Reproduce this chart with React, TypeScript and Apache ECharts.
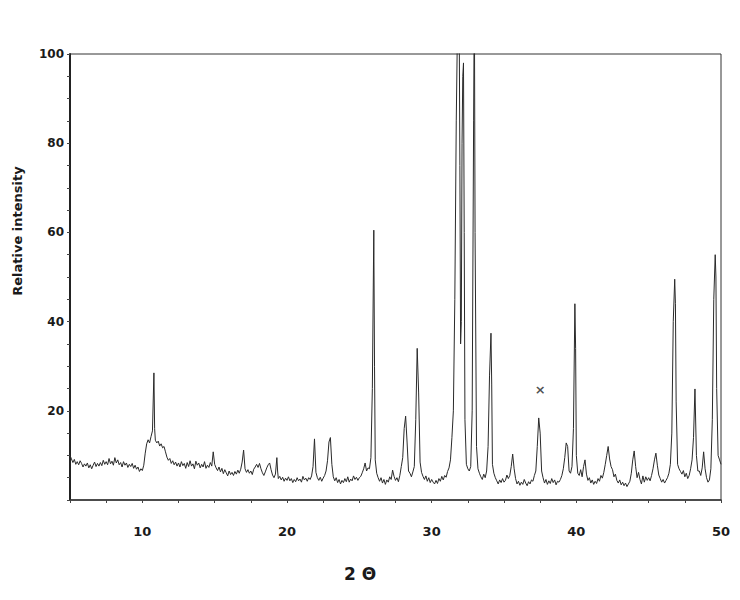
import React, { useEffect, useRef } from "react";
import * as echarts from "echarts";

const twoTheta: number[] = [
  5.0, 5.1, 5.2, 5.3, 5.4, 5.5, 5.6, 5.7, 5.8, 5.9, 6.0, 6.1, 6.2, 6.3, 6.4, 6.5, 6.6, 6.7, 6.8, 6.9,
  7.0, 7.1, 7.2, 7.3, 7.4, 7.5, 7.6, 7.7, 7.8, 7.9, 8.0, 8.1, 8.2, 8.3, 8.4, 8.5, 8.6, 8.7, 8.8, 8.9,
  9.0, 9.1, 9.2, 9.3, 9.4, 9.5, 9.6, 9.7, 9.8, 9.9, 10.0, 10.1,
  10.2, 10.3, 10.4, 10.5, 10.6, 10.7, 10.8, 10.85, 10.9, 11.0, 11.1, 11.2, 11.3, 11.4, 11.5, 11.6, 11.7, 11.8, 11.9,
  12.0, 12.1, 12.2, 12.3, 12.4, 12.5, 12.6, 12.7, 12.8, 12.9, 13.0, 13.1, 13.2, 13.3, 13.4, 13.5, 13.6, 13.7, 13.8, 13.9,
  14.0, 14.1, 14.2, 14.3, 14.4, 14.5, 14.6, 14.7, 14.8, 14.9, 15.0, 15.1, 15.2, 15.3, 15.4, 15.5, 15.6, 15.7, 15.8, 15.9,
  16.0, 16.1, 16.2, 16.3, 16.4, 16.5, 16.6, 16.7, 16.8, 16.9, 17.0, 17.1, 17.2, 17.3, 17.4, 17.5, 17.6, 17.7, 17.8, 17.9,
  18.0, 18.1, 18.2, 18.3, 18.4, 18.5, 18.6, 18.7, 18.8, 18.9, 19.0, 19.1, 19.2, 19.3, 19.35, 19.4, 19.5, 19.6, 19.7, 19.8, 19.9,
  20.0, 20.1, 20.2, 20.3, 20.4, 20.5, 20.6, 20.7, 20.8, 20.9, 21.0, 21.1, 21.2, 21.3, 21.4, 21.5, 21.6, 21.7, 21.8, 21.9,
  22.0, 22.1, 22.2, 22.3, 22.4, 22.5, 22.6, 22.7, 22.8, 22.9, 23.0, 23.1, 23.2, 23.3, 23.4, 23.5, 23.6, 23.7, 23.8, 23.9,
  24.0, 24.1, 24.2, 24.3, 24.4, 24.5, 24.6, 24.7, 24.8, 24.9, 25.0, 25.1, 25.2, 25.3, 25.4, 25.5, 25.6, 25.7, 25.8, 25.9,
  26.0, 26.05, 26.1, 26.2, 26.3, 26.4, 26.5, 26.6, 26.7, 26.8, 26.9, 27.0, 27.1, 27.2, 27.3, 27.4, 27.5, 27.6, 27.7, 27.8, 27.9,
  28.0, 28.1, 28.2, 28.3, 28.4, 28.5, 28.6, 28.7, 28.8, 28.9, 29.0, 29.1, 29.2, 29.3, 29.4, 29.5, 29.6, 29.7, 29.8, 29.9,
  30.0, 30.1, 30.2, 30.3, 30.4, 30.5, 30.6, 30.7, 30.8, 30.9, 31.0, 31.1, 31.2, 31.3, 31.4, 31.5, 31.6, 31.7, 31.8, 31.85,
  31.9, 31.95, 32.0, 32.05, 32.1, 32.15, 32.2, 32.25, 32.3, 32.4, 32.5, 32.6, 32.7, 32.8, 32.9, 32.95, 33.0, 33.1, 33.2, 33.3,
  33.4, 33.5, 33.6, 33.7, 33.8, 33.9, 34.0, 34.1, 34.15, 34.2, 34.3, 34.4, 34.5, 34.6, 34.7, 34.8, 34.9,
  35.0, 35.1, 35.2, 35.3, 35.4, 35.5, 35.6, 35.7, 35.8, 35.9, 36.0, 36.1, 36.2, 36.3, 36.4, 36.5, 36.6, 36.7, 36.8, 36.9,
  37.0, 37.1, 37.2, 37.3, 37.4, 37.5, 37.6, 37.7, 37.8, 37.9, 38.0, 38.1, 38.2, 38.3, 38.4, 38.5, 38.6, 38.7, 38.8, 38.9,
  39.0, 39.1, 39.2, 39.3, 39.4, 39.5, 39.6, 39.7, 39.8, 39.9, 39.95, 40.0, 40.1, 40.2, 40.3, 40.4, 40.5, 40.6, 40.7, 40.8, 40.9,
  41.0, 41.1, 41.2, 41.3, 41.4, 41.5, 41.6, 41.7, 41.8, 41.9, 42.0, 42.1, 42.2, 42.3, 42.4, 42.5, 42.6, 42.7, 42.8, 42.9,
  43.0, 43.1, 43.2, 43.3, 43.4, 43.5, 43.6, 43.7, 43.8, 43.9, 44.0, 44.1, 44.2, 44.3, 44.4, 44.5, 44.6, 44.7, 44.8, 44.9,
  45.0, 45.1, 45.2, 45.3, 45.4, 45.5, 45.6, 45.7, 45.8, 45.9, 46.0, 46.1, 46.2, 46.3, 46.4, 46.5, 46.6, 46.7, 46.8, 46.85, 46.9,
  47.0, 47.1, 47.2, 47.3, 47.4, 47.5, 47.6, 47.7, 47.8, 47.9, 48.0, 48.1, 48.2, 48.3, 48.4, 48.5, 48.6, 48.7, 48.8, 48.9,
  49.0, 49.1, 49.2, 49.3, 49.4, 49.5, 49.6, 49.65, 49.7, 49.8, 49.9, 50.0,
];

const intensity: number[] = [
  10.0, 9.2, 8.4, 9.1, 8.0, 8.6, 7.9, 8.8, 8.2, 7.4, 8.1, 7.6, 8.3, 7.2, 7.9, 7.0, 7.8, 8.5, 7.5, 8.2,
  7.6, 8.4, 7.7, 8.9, 8.0, 8.6, 7.9, 9.3, 8.1, 8.7, 7.8, 9.5, 8.3, 9.0, 7.9, 8.4, 7.4, 8.6, 7.8, 8.3,
  7.3, 8.0, 7.5, 8.2, 7.1, 7.8, 6.9, 7.4, 6.4, 7.0, 6.6, 7.8,
  10.5, 12.6, 13.5, 12.8, 14.2, 15.5, 28.5, 16.0, 13.4, 12.8, 13.2, 12.1, 12.6, 11.7, 12.0, 10.8, 9.6, 8.9, 9.3,
  8.2, 8.8, 7.9, 8.5, 7.6, 8.3, 7.4, 8.6, 7.7, 8.2, 7.1, 8.4, 7.5, 8.8, 7.6, 8.1, 7.0, 8.7, 7.8, 8.3,
  7.2, 8.0, 7.4, 8.6, 7.1, 7.8, 7.3, 8.4, 7.6, 10.8, 8.0, 7.2, 6.6, 7.4, 6.3, 7.1, 5.9, 6.8, 6.1, 5.4,
  6.5, 5.7, 6.2, 5.5, 6.4, 5.8, 6.7, 6.0, 6.9, 8.5, 11.2, 7.0, 6.2, 6.8, 6.0, 6.5, 5.7, 6.9, 7.4, 8.0,
  7.3, 8.2, 7.0, 6.1, 5.5, 6.3, 7.2, 7.9, 8.3, 6.8, 5.6, 5.0, 5.8, 9.5, 6.5, 4.8, 5.3, 4.5, 5.1, 4.2, 4.9,
  4.4, 5.2, 4.3, 4.8, 3.9, 4.6, 4.1, 5.0, 4.3, 4.7, 4.0, 5.3, 4.5, 4.9, 4.2, 5.0, 4.6, 5.4, 7.5, 13.7,
  6.2, 5.0, 4.4, 5.1, 4.2, 4.9, 5.5, 6.5, 8.8, 13.0, 14.0, 8.0, 5.2, 4.3, 5.0, 3.9, 4.6, 3.6, 4.4, 3.9,
  4.8, 4.1, 5.2, 4.0, 4.7, 4.3, 5.4, 4.6, 5.1, 4.4, 5.0, 5.3, 6.1, 7.0, 8.3, 6.5, 7.2, 7.0, 9.5, 25.0,
  60.5, 30.0, 9.0, 6.0, 5.0, 4.2, 5.0, 3.8, 4.6, 3.5, 4.5, 4.0, 5.2, 4.6, 6.7, 5.3, 4.4, 5.0, 4.1, 5.5, 7.5,
  9.5, 16.0, 18.8, 13.0, 6.5, 6.0, 5.2, 6.3, 7.5, 18.0, 34.0, 24.0, 8.5, 6.2, 5.3, 4.6, 5.4, 4.2, 5.0, 3.9,
  4.6, 4.0, 3.6, 4.4, 3.7, 4.8, 4.2, 5.3, 4.5, 5.5, 5.1, 6.4, 7.2, 9.0, 14.0, 20.0, 45.0, 85.0, 110.0, 120.0,
  110.0, 75.0, 35.0, 40.0, 80.0, 95.0, 98.0, 60.0, 18.0, 8.0, 7.0, 6.5, 7.5, 20.0, 85.0, 115.0, 60.0, 12.0, 7.0, 6.0,
  5.2, 4.6, 5.8, 5.0, 6.5, 12.0, 28.0, 37.4, 26.0, 8.0, 6.0, 5.0, 4.3, 3.6, 4.5, 3.9, 4.8,
  4.0, 4.4, 5.6, 4.8, 5.5, 7.5, 10.3, 7.0, 4.8, 3.6, 4.2, 3.3, 4.0, 3.5, 4.6, 3.8, 3.2, 4.1, 3.6, 4.5,
  4.2, 5.5, 6.5, 12.0, 18.4, 15.0, 6.5, 5.0, 3.8, 4.6, 3.5, 4.3, 3.7, 4.8, 3.9, 4.5, 3.4, 4.2, 4.0, 4.6,
  5.5, 7.0, 9.5, 12.8, 12.0, 6.5, 6.0, 7.5, 16.0, 44.0, 34.0, 10.0, 6.0, 5.5, 6.8, 5.2, 7.5, 9.0, 5.8, 4.4, 5.0,
  3.8, 4.5, 3.5, 4.2, 3.7, 4.8, 4.2, 5.5, 4.9, 6.2, 8.0, 10.0, 12.0, 9.2, 7.5, 6.8, 5.2, 5.8, 4.4, 3.8,
  4.5, 3.4, 4.0, 3.2, 3.8, 3.0, 3.6, 4.2, 6.0, 9.0, 11.0, 7.5, 5.0, 6.2, 4.6, 3.6, 5.4, 4.0, 5.2, 4.4,
  5.0, 4.3, 5.5, 7.0, 9.0, 10.5, 7.8, 5.6, 4.8, 4.0, 4.6, 3.8, 4.4, 5.0, 6.0, 8.0, 15.0, 40.0, 49.5, 44.0, 22.0,
  8.0, 7.0, 6.4, 5.8, 6.6, 5.2, 6.0, 4.8, 5.5, 7.0, 9.0, 14.0, 24.9, 10.0, 6.5, 6.5, 5.5, 7.2, 10.8, 7.0,
  5.0, 4.0, 4.5, 7.0, 18.0, 45.0, 55.0, 50.0, 25.0, 10.0, 9.0, 8.0,
];

// marked reflection (×)
const markTheta: number[] = [37.5];
const markLevel: number[] = [24.7];

// axis settings
const xMin = 5;
const xMax = 50;
const yMin = 0;
const yMax = 100;

const FONT = "DejaVu Sans";

export default function App() {
  const ref = useRef<HTMLDivElement>(null);

  useEffect(() => {
    if (!ref.current) return;
    const chart = echarts.init(ref.current, undefined, { renderer: "svg" });
    const lineData = twoTheta.map((t, i) => [t, intensity[i]]);
    const markData = markTheta.map((t, i) => [t, markLevel[i]]);

    chart.setOption({
      animation: false,
      backgroundColor: "#ffffff",
      grid: {
        left: 70,
        right: 19,
        top: 54,
        bottom: 100,
        show: true,
        borderColor: "#333",
        borderWidth: 1,
      },
      xAxis: {
        type: "value",
        min: xMin,
        max: xMax,
        interval: 2.5,
        axisLine: { lineStyle: { color: "#333", width: 1.5 } },
        axisTick: { length: 3, lineStyle: { color: "#444" } },
        splitLine: { show: false },
        axisLabel: {
          margin: 25,
          color: "#1a1a1a",
          fontFamily: FONT,
          fontWeight: "bold",
          fontSize: 13,
          formatter: (v: number) => (v % 10 === 0 ? String(v) : ""),
        },
      },
      yAxis: {
        type: "value",
        min: yMin,
        max: yMax,
        interval: 5,
        axisLine: { show: true, lineStyle: { color: "#222", width: 2 } },
        axisTick: { show: true, length: 3, lineStyle: { color: "#444" } },
        splitLine: { show: false },
        axisLabel: {
          margin: 6,
          color: "#1a1a1a",
          fontFamily: FONT,
          fontWeight: "bold",
          fontSize: 12,
          formatter: (v: number) => (v % 20 === 0 && v !== 0 ? String(v) : ""),
        },
      },
      series: [
        {
          type: "line",
          data: lineData,
          showSymbol: false,
          clip: true,
          lineStyle: { color: "#2a2a2a", width: 1 },
        },
        {
          type: "scatter",
          data: markData,
          symbolSize: 0,
          label: {
            show: true,
            position: "inside",
            formatter: "×",
            color: "#222",
            fontFamily: FONT,
            fontWeight: "bold",
            fontSize: 13,
          },
        },
      ],
      graphic: [
        {
          type: "text",
          x: 17,
          y: 231,
          rotation: Math.PI / 2,
          style: {
            text: "Relative intensity",
            font: `bold 13px "${FONT}"`,
            fill: "#1a1a1a",
            align: "center",
            verticalAlign: "middle",
          },
        },
        {
          type: "text",
          x: 360,
          y: 574,
          style: {
            text: "2 Θ",
            font: `bold 17px "${FONT}"`,
            fill: "#1a1a1a",
            align: "center",
            verticalAlign: "middle",
          },
        },
      ],
    });

    return () => chart.dispose();
  }, []);

  return (
    <div
      ref={ref}
      style={{ position: "absolute", left: 0, top: 0, width: 740, height: 600 }}
    />
  );
}
